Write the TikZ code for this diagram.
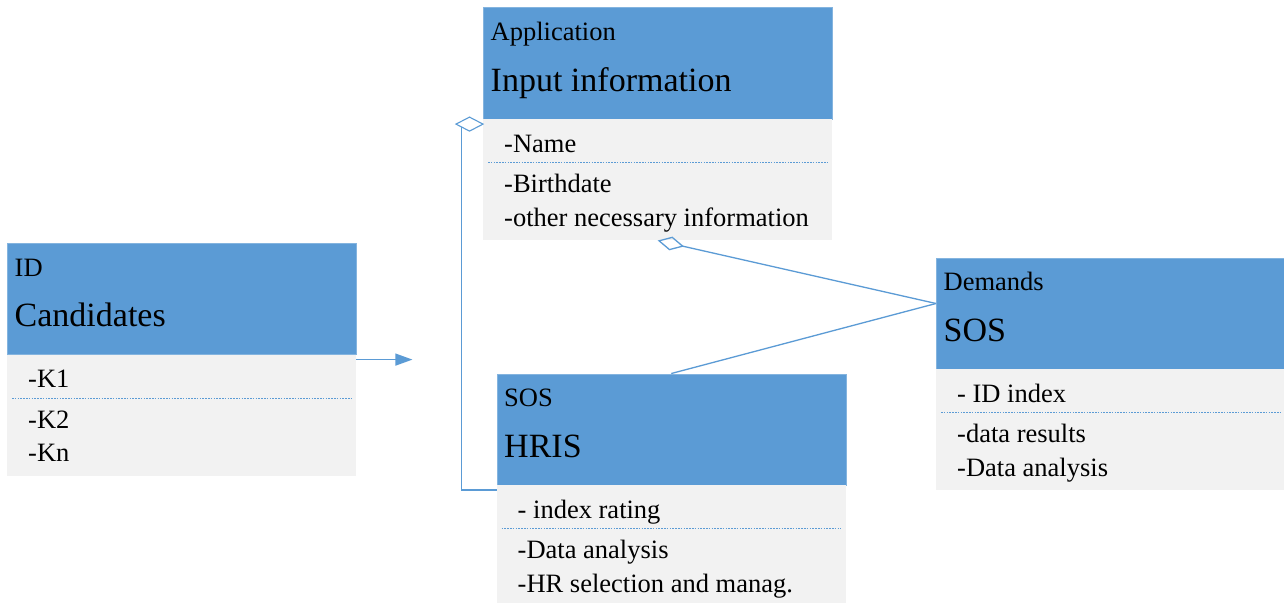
\documentclass[tikz,border=0pt]{standalone}
\usepackage{fontspec}
\setmainfont{Liberation Serif}
\usetikzlibrary{arrows.meta,calc}
\definecolor{hdrblue}{HTML}{5B9BD5}
\definecolor{bodygray}{HTML}{F2F2F2}
\definecolor{linkblue}{HTML}{5B9BD5}
\tikzset{
  hdr/.style={rectangle, fill=hdrblue, draw=hdrblue!75!white, line width=0.6pt,
    anchor=north west, inner sep=0pt, minimum width=349pt, minimum height=111pt},
  bdy/.style={rectangle, fill=bodygray, anchor=north west, inner sep=0pt,
    minimum width=349pt, minimum height=121pt},
  smalltxt/.style={anchor=base west, inner sep=0pt, font=\fontsize{26.5}{30}\selectfont},
  titletxt/.style={anchor=base west, inner sep=0pt, font=\fontsize{34}{38}\selectfont},
  sepline/.style={draw=linkblue, line width=0.8pt, dash pattern=on 1.6pt off 1.2pt},
  conn/.style={draw=linkblue, line width=1.3pt},
}
% class box: name, x, y (top left), label, title, three attribute lines
\newcommand\umlclass[8]{%
  \node[hdr] (#1h) at (#2,#3) {};
  \node[bdy] (#1b) at (#1h.south west) {};
  \node[smalltxt] (#1l) at ($(#1h.north west)+(7.5,33.4)$) {#4};
  \node[titletxt] (#1t) at ($(#1h.north west)+(7.5,83.8)$) {#5};
  \node[smalltxt] (#1a) at ($(#1h.north west)+(21,144.7)$) {#6};
  \draw[sepline] ($(#1h.north west)+(5,155.3)$) -- ($(#1h.north east)+(-5,155.3)$);
  \node[smalltxt] (#1c) at ($(#1h.north west)+(21,185)$) {#7};
  \node[smalltxt] (#1d) at ($(#1h.north west)+(21,218.5)$) {#8};
}
\begin{document}
\begin{tikzpicture}[x=1pt,y=-1pt]
  \clip (0,0) rectangle (1284,602);
  \fill[white] (0,0) rectangle (1284,602);

  \umlclass{cand}{7}{243}{ID}{Candidates}{-K1}{-K2}{-Kn}
  \umlclass{app}{483}{7.5}{Application}{Input information}{-Name}{-Birthdate}{-other necessary information}
  \umlclass{hris}{496.5}{373.5}{SOS}{HRIS}{- index rating}{-Data analysis}{-HR selection and manag.}
  \umlclass{sos}{936}{257.5}{Demands}{SOS}{- ID index}{-data results}{-Data analysis}

  % directed association leaving Candidates
  \coordinate (candout) at ($(candb.north east)+(0,5)$);
  \coordinate (arrowend) at ($(candout)+(56,0)$);
  \draw[conn, -{Triangle[length=17pt, width=12pt]}] (candout) -- (arrowend);

  % aggregation HRIS -> Application (left side)
  \coordinate (aggA) at ($(appb.north west)+(0,5)$);
  \draw[conn] ($(hrisb.north west)+(0,5)$) -| ($(aggA)+(-21.3,0)$);
  \draw[conn, line width=1.1pt, fill=white]
    (aggA) -- ++(-13.5,-7) -- ++(-13.5,7) -- ++(13.5,7) -- cycle;

  % links from SOS
  \coordinate (sosjoin) at ($(sosh.north west)+(0,46)$);
  \draw[conn, -{Diamond[open, length=27pt, width=14pt]}] (sosjoin) -- (appb.south);
  \draw[conn] (sosjoin) -- (hrish.north);
\end{tikzpicture}
\end{document}
